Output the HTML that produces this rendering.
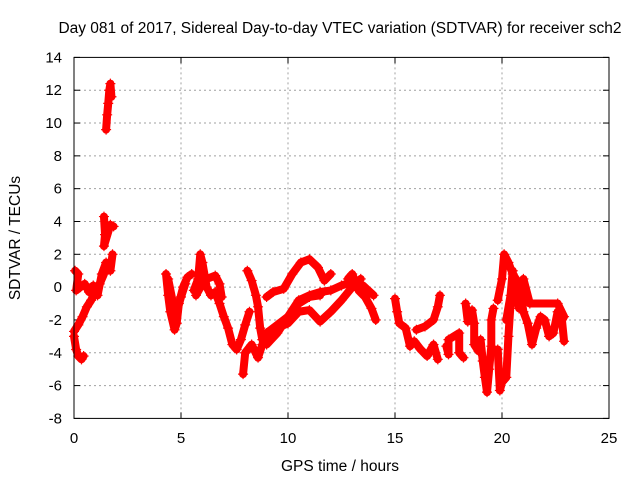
<!DOCTYPE html>
<html><head><meta charset="utf-8"><style>
body{margin:0;background:#fff;}
svg{display:block;font-family:"Liberation Sans",sans-serif;}
</style></head><body>
<svg id="chart" width="640" height="480">
<text x="340" y="33" font-size="15.5" text-anchor="middle">Day 081 of 2017, Sidereal Day-to-day VTEC variation (SDTVAR) for receiver sch2</text>
<text x="340" y="471" font-size="15.5" text-anchor="middle">GPS time / hours</text>
<text x="0" y="0" font-size="15.5" text-anchor="middle" transform="translate(20,238) rotate(-90)">SDTVAR / TECUs</text>
<g id="grid"></g>
<g id="ticks"></g>
<g id="marks"></g>
<rect x="74" y="57.4" width="535" height="361" fill="none" stroke="#000" stroke-width="1"/>
</svg>
<script>
const xTicks=[0,5,10,15,20,25];
const yTicks=[-8,-6,-4,-2,0,2,4,6,8,10,12,14];
const trackA1=[[0.05,1.0],[0.2,0.8],[0.1,-0.2],[0.3,0],[0.5,0.2],[0.7,-0.3],[0.9,0.1],[1.1,-0.5],[1.3,0.8],[1.5,1.5],[1.7,1.0],[1.8,2.0]];
const trackA2=[[0.0,-2.7],[0.2,-2.3],[0.4,-1.8],[0.6,-1.2],[0.8,-0.8],[1.0,-0.3],[1.2,0.2],[1.4,0.8]];
const trackA3=[[0.0,-3.0],[0.1,-3.8],[0.2,-4.2],[0.35,-4.4],[0.45,-4.2]];
const trackA4=[[1.4,4.3],[1.45,3.2],[1.4,2.5],[1.7,3.8],[1.85,3.7]];
const trackA5=[[1.5,9.6],[1.55,10.5],[1.6,11.2],[1.65,12.0],[1.7,12.4],[1.75,11.6]];
const trackB=[[4.3,0.8],[4.4,-0.5],[4.5,-1.5],[4.7,-2.6],[4.8,-2.2],[4.9,-1.0],[5.1,0],[5.3,0.6],[5.5,0.8]];
const trackB2=[[4.4,0.5],[4.6,-0.8],[4.8,-1.5],[5.0,-0.6],[5.2,0.2]];
const trackC=[[5.6,-0.2],[5.8,0.5],[5.9,2.0],[6.0,1.5],[6.2,0],[6.4,-0.5],[6.6,-0.3],[6.8,-1],[7.0,-1.8],[7.2,-2.5],[7.4,-3.5],[7.6,-3.8],[7.8,-3.2],[8.0,-2.3],[8.2,-1.5]];
const trackC2=[[5.7,-0.5],[6.0,0.2],[6.2,0.5],[6.6,0.7],[6.8,0.2],[6.9,-0.6]];
const trackD=[[8.1,1.0],[8.3,0.4],[8.5,-0.5],[8.6,-1.2],[8.7,-2.5],[8.8,-3.2]];
const trackD2=[[7.9,-5.3],[8.0,-4.0],[8.3,-3.5],[8.6,-4.3],[8.8,-3.5],[9.0,-2.8],[9.5,-2.3],[10,-1.8],[10.5,-1.0],[11,-0.6],[11.5,-0.5]];
const arcUpper=[[9.0,-0.6],[9.3,-0.3],[9.8,-0.1],[10.2,0.8],[10.6,1.5],[11.0,1.7],[11.4,1.2],[11.7,0.4],[12.0,0.8]];
const bandMid=[[9.0,-3.5],[9.5,-2.8],[10.0,-1.8],[10.5,-0.8],[11.0,-0.5],[11.5,-0.3],[12,-0.2],[12.5,0.1],[13,0.3],[13.5,0.1],[14,-0.5]];
const bandLow=[[9.0,-3.0],[9.5,-2.5],[10,-2.2],[10.5,-1.5],[11,-1.4],[11.5,-2.1],[12,-1.5],[12.5,-0.8],[13,0.0],[13.4,0.5]];
const trackE=[[12.8,0.5],[13.0,0.8],[13.3,-0.2],[13.6,-0.6],[13.9,-1.3],[14.1,-2.0]];
const trackF=[[15.0,-0.7],[15.1,-1.5],[15.2,-2.2],[15.5,-2.5],[15.7,-3.6],[15.9,-3.3],[16.2,-3.8],[16.5,-4.2],[16.8,-3.5],[17.0,-4.4]];
const trackF2=[[16.0,-2.6],[16.4,-2.4],[16.8,-2.0],[17.0,-1.2],[17.1,-0.5]];
const trackG=[[17.4,-3.6],[17.5,-4.1],[17.5,-3.2],[18.0,-2.8],[18.0,-4.0],[18.2,-4.3]];
const trackG2=[[18.3,-1.0],[18.4,-2.1],[18.6,-1.4],[18.7,-2.2],[18.7,-3.5],[18.9,-3.9]];
const trackH=[[19.0,-3.2],[19.1,-4.5],[19.2,-5.5],[19.3,-6.4],[19.4,-5],[19.5,-3.6],[19.5,-2.0],[19.6,-1.3]];
const trackH2=[[19.8,-3.8],[19.9,-6.3],[20.0,-5.8],[20.2,-5.5],[20.3,-3.0],[20.4,-1.0]];
const trackI=[[19.8,-0.8],[20.0,0.5],[20.1,2.0],[20.3,1.5],[20.5,0.8],[20.8,0.2],[21.0,-1.5],[21.2,-2.2],[21.4,-3.5],[21.6,-2.5],[21.8,-1.8],[22.0,-2.0],[22.2,-3.0],[22.4,-2.8],[22.6,-1.5],[22.8,-2.0],[22.9,-3.3]];
const trackI2=[[20.2,-2.0],[20.4,-0.5],[20.5,1.0],[20.6,-0.5],[20.8,-1.3],[21.0,0.5],[21.3,-1.0],[22.6,-1.0],[22.9,-1.8]];
const tracks=[trackA1,trackA2,trackA3,trackA4,trackA5,trackB,trackB2,trackC,trackC2,trackD,trackD2,arcUpper,bandMid,bandLow,trackE,trackF,trackF2,trackG,trackG2,trackH,trackH2,trackI,trackI2];

const NS='http://www.w3.org/2000/svg';
const X0=74,X1=609,Y0=418.4,Y1=57.4;
function sx(v){return X0+(v-0)/(25-0)*(X1-X0);}
function sy(v){return Y0-(v+8)/(14+8)*(Y0-Y1);}
function mk(t,a){const e=document.createElementNS(NS,t);for(const k in a)e.setAttribute(k,a[k]);return e;}
const grid=document.getElementById('grid'),ticks=document.getElementById('ticks'),marks=document.getElementById('marks');
xTicks.forEach(v=>{
  const x=sx(v);
  if(v>0&&v<25){const g=mk('line',{x1:x,x2:x,y1:Y1,y2:Y0,stroke:'#a0a0a0','stroke-dasharray':'2,3'});
  
  grid.appendChild(g);}
  const t=mk('text',{x:x,y:443,'font-size':'15','text-anchor':'middle'});t.textContent=v;
  
  ticks.appendChild(t);
  ticks.appendChild(mk('line',{x1:x,x2:x,y1:Y0,y2:Y0-6,stroke:'#000'}));
  ticks.appendChild(mk('line',{x1:x,x2:x,y1:Y1,y2:Y1+6,stroke:'#000'}));
});
yTicks.forEach(v=>{
  const y=sy(v);
  if(v>-8&&v<14){const g=mk('line',{x1:X0,x2:X1,y1:y,y2:y,stroke:'#a0a0a0','stroke-dasharray':'2,3'});
  
  grid.appendChild(g);}
  const t=mk('text',{x:X0-12,y:y+5,'font-size':'15','text-anchor':'end'});t.textContent=v;
  
  ticks.appendChild(t);
  ticks.appendChild(mk('line',{x1:X0,x2:X0+6,y1:y,y2:y,stroke:'#000'}));
  ticks.appendChild(mk('line',{x1:X1,x2:X1-6,y1:y,y2:y,stroke:'#000'}));
});
tracks.forEach(tr=>{
  const pl=mk('polyline',{points:tr.map(p=>sx(p[0])+','+sy(p[1])).join(' '),fill:'none',stroke:'#f00','stroke-width':'8','stroke-linejoin':'round','stroke-linecap':'round'});
  
  
  marks.appendChild(pl);
  tr.forEach(p=>{
    const x=sx(p[0]),y=sy(p[1]);
    const m=mk('path',{d:`M${x-5},${y}h10M${x},${y-5}v10`,stroke:'#f00','stroke-width':'1.2'});
    
    
    marks.appendChild(m);
  });
});
</script>
</body></html>
